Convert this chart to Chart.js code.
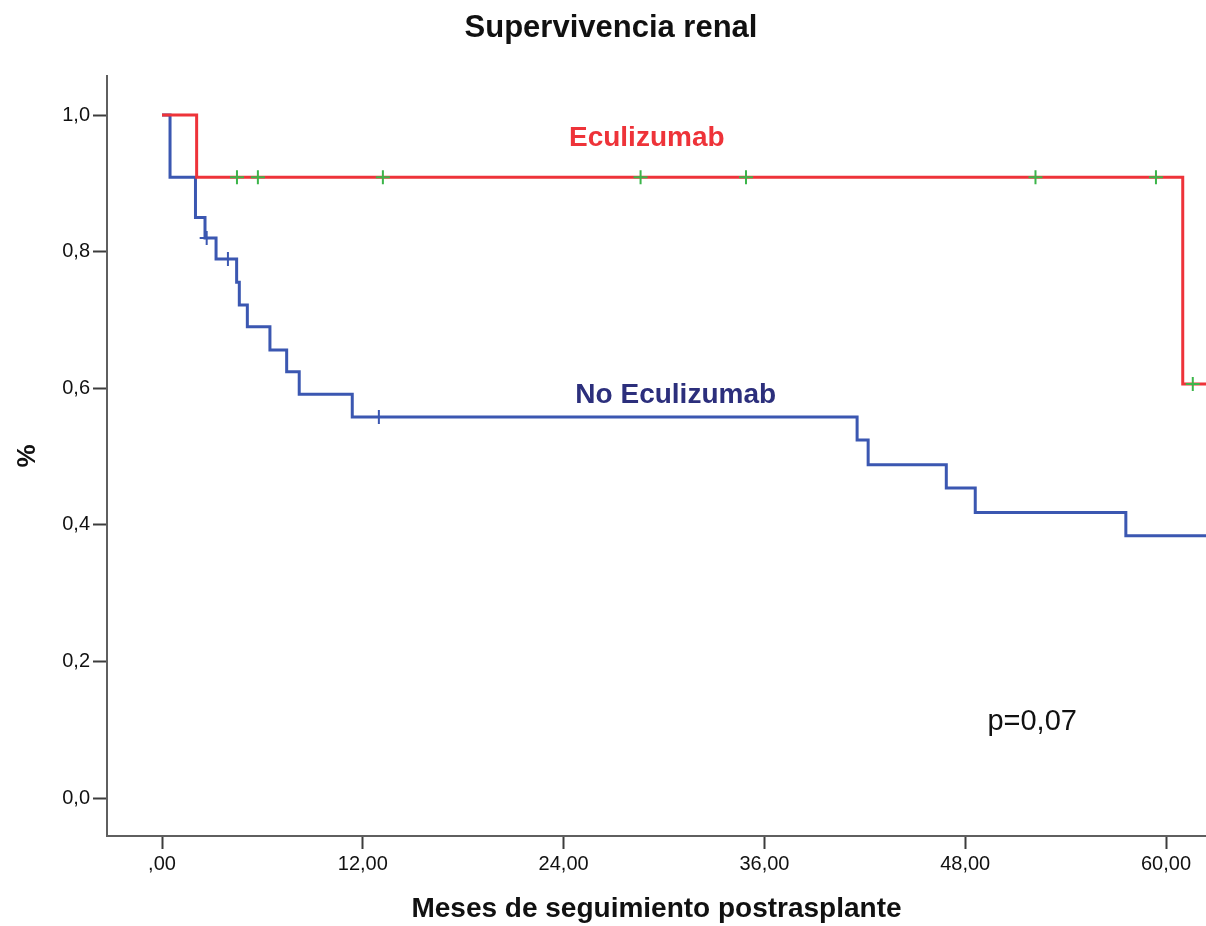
<!DOCTYPE html>
<html>
<head>
<meta charset="utf-8">
<title>Supervivencia renal</title>
<script src="https://cdn.jsdelivr.net/npm/chart.js@4.4.1/dist/chart.umd.min.js"></script>
<style>
    body { margin: 0; background: #fff; }
    #wrap { width: 1206px; height: 926px; }
</style>
</head>
<body>
<div id="wrap"><canvas id="km" width="1206" height="926"></canvas></div>
<script>
// ---- data ----
const ecuTimes = [0, 2.07, 61.0, 62.4];
const ecuSurv = [1.0, 0.909, 0.606, 0.606];
const ecuCensTimes = [4.48, 5.73, 13.2, 28.6, 34.9, 52.2, 59.4, 61.6];
const ecuCensSurv = [0.909, 0.909, 0.909, 0.909, 0.909, 0.909, 0.909, 0.606];

const noEcuTimes = [0, 0.48, 2.0, 2.57, 3.23, 4.46, 4.62, 5.1, 6.45, 7.45, 8.2, 11.37, 41.54, 42.2, 46.87, 48.6, 57.6, 62.4];
const noEcuSurv = [1.0, 0.909, 0.85, 0.82, 0.789, 0.755, 0.722, 0.69, 0.656, 0.624, 0.591, 0.558, 0.524, 0.488, 0.454, 0.418, 0.384, 0.384];
const noEcuCensTimes = [2.67, 3.94, 12.96];
const noEcuCensSurv = [0.82, 0.789, 0.558];

const xTicks = [0, 12, 24, 36, 48, 60];
const xTickLabels = [',00', '12,00', '24,00', '36,00', '48,00', '60,00'];
const yTicks = [0, 0.2, 0.4, 0.6, 0.8, 1.0];
const yTickLabels = ['0,0', '0,2', '0,4', '0,6', '0,8', '1,0'];

// ---- styling ----
const colors = {
    ecu: '#ee3339',
    noEcu: '#3b57b1',
    noEcuText: '#2c2f7c',
    censor: '#3cb54a',
    axis: '#5f5f5f',
    tick: '#3c3c3c',
    text: '#111111'
};
const FONT = 'Arial, "Liberation Sans", Helvetica, sans-serif';

const toXY = (xs, ys) => xs.map((x, i) => ({ x: x, y: ys[i] }));

// free text: title + curve labels + p value
const textPlugin = {
    id: 'kmText',
    afterDraw(chart) {
        const ctx = chart.ctx;
        const xs = chart.scales.x;
        const ys = chart.scales.y;
        ctx.save();
        ctx.textAlign = 'center';
        ctx.textBaseline = 'middle';

        ctx.fillStyle = colors.text;
        ctx.font = 'bold 31px ' + FONT;
        ctx.fillText('Supervivencia renal', 611, 28);

        ctx.fillStyle = colors.ecu;
        ctx.font = 'bold 28px ' + FONT;
        ctx.fillText('Eculizumab', xs.getPixelForValue(28.97), ys.getPixelForValue(0.966));

        ctx.fillStyle = colors.noEcuText;
        ctx.fillText('No Eculizumab', xs.getPixelForValue(30.7), ys.getPixelForValue(0.59));

        ctx.fillStyle = colors.text;
        ctx.font = '29px ' + FONT;
        ctx.fillText('p=0,07', xs.getPixelForValue(52.0), ys.getPixelForValue(0.111));
        ctx.restore();
    }
};

new Chart(document.getElementById('km'), {
    type: 'line',
    data: {
        datasets: [
            {
                label: 'Censurado Eculizumab',
                type: 'scatter',
                data: toXY(ecuCensTimes, ecuCensSurv),
                pointStyle: 'cross',
                pointRadius: 7,
                borderColor: colors.censor,
                backgroundColor: colors.censor,
                pointBorderWidth: 2,
                order: 0
            },
            {
                label: 'Censurado No Eculizumab',
                type: 'scatter',
                data: toXY(noEcuCensTimes, noEcuCensSurv),
                pointStyle: 'cross',
                pointRadius: 7,
                borderColor: colors.noEcu,
                backgroundColor: colors.noEcu,
                pointBorderWidth: 2,
                order: 0
            },
            {
                label: 'Eculizumab',
                data: toXY(ecuTimes, ecuSurv),
                stepped: 'before',
                borderColor: colors.ecu,
                borderWidth: 3,
                pointRadius: 0,
                fill: false,
                order: 1
            },
            {
                label: 'No Eculizumab',
                data: toXY(noEcuTimes, noEcuSurv),
                stepped: 'before',
                borderColor: colors.noEcu,
                borderWidth: 3,
                pointRadius: 0,
                fill: false,
                order: 2
            }
        ]
    },
    options: {
        responsive: false,
        animation: false,
        layout: {
            autoPadding: false,
            padding: { top: 76, right: 0, bottom: 0, left: 0 }
        },
        plugins: {
            legend: { display: false },
            tooltip: { enabled: false },
            title: { display: false }
        },
        scales: {
            x: {
                type: 'linear',
                min: -3.287,
                max: 62.39,
                afterFit(scale) { scale.height = 90; },
                afterBuildTicks(scale) { scale.ticks = xTicks.map(v => ({ value: v })); },
                grid: {
                    drawOnChartArea: false,
                    drawTicks: true,
                    tickLength: 13,
                    tickWidth: 2,
                    tickColor: colors.tick
                },
                border: { display: true, color: colors.axis, width: 2 },
                ticks: {
                    autoSkip: false,
                    maxRotation: 0,
                    padding: 3,
                    color: colors.text,
                    font: { family: FONT, size: 20 },
                    callback: (v, i) => xTickLabels[i]
                },
                title: {
                    display: true,
                    text: 'Meses de seguimiento postrasplante',
                    color: colors.text,
                    font: { family: FONT, size: 28, weight: 'bold' },
                    padding: { top: 0, bottom: 0 }
                }
            },
            y: {
                type: 'linear',
                min: -0.0556,
                max: 1.0571,
                afterFit(scale) { scale.width = 107; },
                afterBuildTicks(scale) { scale.ticks = yTicks.map(v => ({ value: v })); },
                grid: {
                    drawOnChartArea: false,
                    drawTicks: true,
                    tickLength: 14,
                    tickWidth: 2,
                    tickColor: colors.tick
                },
                border: { display: true, color: colors.axis, width: 2 },
                ticks: {
                    autoSkip: false,
                    padding: 3,
                    color: colors.text,
                    font: { family: FONT, size: 20 },
                    callback: (v, i) => yTickLabels[i]
                },
                title: {
                    display: true,
                    text: '%',
                    color: colors.text,
                    font: { family: FONT, size: 26, weight: 'bold' },
                    padding: { top: 12, bottom: 0 }
                }
            }
        }
    },
    plugins: [textPlugin]
});
</script>
</body>
</html>
